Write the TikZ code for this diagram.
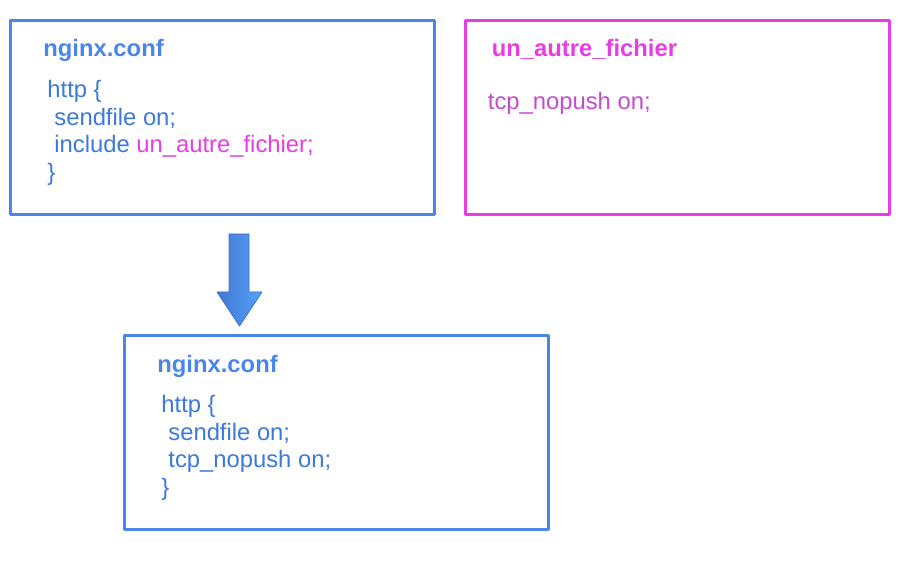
\documentclass[tikz,border=0pt]{standalone}
\usepackage{fontspec}
\setmainfont{Liberation Sans}
\definecolor{boxblue}{HTML}{4A86E8}
\definecolor{textblue}{HTML}{3D79D8}
\definecolor{boxpink}{HTML}{E83DE2}
\definecolor{textpink}{HTML}{C44CCC}
\definecolor{arrowlight}{HTML}{55A0FA}

\begin{document}
\begin{tikzpicture}[x=0.5pt,y=-0.5pt,line cap=round,line join=round]
\useasboundingbox (0,0) rectangle (900,561);
\tikzset{
  filebox/.style={draw,line width=1.5pt,minimum width=212pt,minimum height=97pt,anchor=north west,inner sep=0pt,outer sep=0pt},
  codeline/.style={anchor=base west,inner sep=0pt,text=textblue,font=\fontsize{11.9}{14}\selectfont},
  filetitle/.style={anchor=base west,inner sep=0pt,font=\fontsize{11.9}{14}\selectfont\bfseries}
}
% source file
\node[filebox,draw=boxblue] (conf) at (10.5,20.5) {};
\node[filetitle,text=boxblue] (conftitle) at (43,57) {nginx.conf};
\node[codeline] (confa) at (47,97.5) {http \{};
\node[codeline] (confb) at (54,125.2) {sendfile on;};
\node[codeline] (confc) at (54,152.9) {include \textcolor{boxpink}{un\_autre\_fichier;}};
\node[codeline] (confd) at (47,180.5) {\}};
% included file
\node[filebox,draw=boxpink] (other) at (465.5,20.5) {};
\node[filetitle,text=boxpink] (othertitle) at (491.5,57) {un\_autre\_fichier};
\node[codeline,text=textpink] (othera) at (487.5,110) {tcp\_nopush on;};
% result
\node[filebox,draw=boxblue] (result) at (124.5,335.5) {};
\node[filetitle,text=boxblue] (resulttitle) at (157,372) {nginx.conf};
\node[codeline] (resulta) at (161,412.5) {http \{};
\node[codeline] (resultb) at (168,440.2) {sendfile on;};
\node[codeline] (resultc) at (168,467.9) {tcp\_nopush on;};
\node[codeline] (resultd) at (161,495.5) {\}};
% block arrow
\draw[draw=boxblue!85!black,line width=0.4pt,left color=boxblue!90!black,right color=arrowlight]
  (229,234) -- (249,234) -- (249,292) -- (262,292) -- (239.5,326) -- (217,292) -- (229,292) -- cycle;
\end{tikzpicture}
\end{document}
